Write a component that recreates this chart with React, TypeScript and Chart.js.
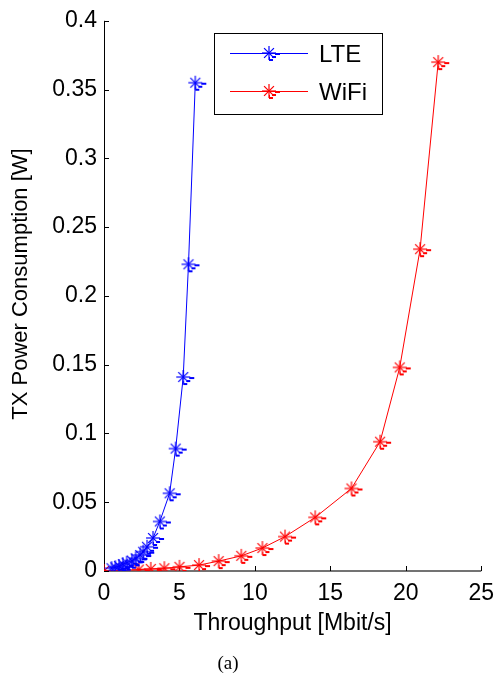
import React, { useEffect, useRef } from "react";
import { Chart, registerables } from "chart.js";

Chart.register(...registerables);

const seriesNames = ["LTE", "WiFi"];
const seriesColors = ["#0000ff", "#ff0000"];

const lteThroughput = [0.5, 0.75, 1.0, 1.25, 1.5, 1.85, 2.1, 2.4, 2.6, 2.85, 3.25, 3.7, 4.35, 4.75, 5.25, 5.6, 6.05];
const ltePower = [0.002, 0.0027, 0.0036, 0.0049, 0.006, 0.0075, 0.0092, 0.0116, 0.014, 0.0176, 0.024, 0.036, 0.0565, 0.089, 0.141, 0.223, 0.355];

const wifiThroughput = [0, 2.3, 3.1, 4.0, 5.0, 6.3, 7.6, 9.1, 10.5, 12.0, 14.0, 16.4, 18.3, 19.6, 20.95, 22.15];
const wifiPower = [0, 0.001, 0.0015, 0.002, 0.003, 0.0043, 0.0072, 0.011, 0.0167, 0.025, 0.039, 0.06, 0.094, 0.148, 0.234, 0.37];

const xTicks = [0, 5, 10, 15, 20, 25];
const yTicks = [0, 0.05, 0.1, 0.15, 0.2, 0.25, 0.3, 0.35, 0.4];

const xTitle = "Throughput [Mbit/s]";
const yTitle = "TX Power Consumption [W]";
const caption = "(a)";

const FONT = "'Liberation Sans', Arial, sans-serif";

function makeMarker(color: string): HTMLCanvasElement {
  const c = document.createElement("canvas");
  c.width = 34;
  c.height = 34;
  const ctx = c.getContext("2d")!;
  const cx = 17;
  const cy = 17;
  const r = 7;
  ctx.strokeStyle = color;
  ctx.lineWidth = 1.2;
  for (let i = 0; i < 4; i++) {
    const a = (i * Math.PI) / 4;
    ctx.beginPath();
    ctx.moveTo(cx - r * Math.cos(a), cy - r * Math.sin(a));
    ctx.lineTo(cx + r * Math.cos(a), cy + r * Math.sin(a));
    ctx.stroke();
  }
  ctx.fillStyle = color;
  ctx.fillRect(cx + 6, cy, 5, 2);
  ctx.fillRect(cx + 3, cy + 3, 4, 2);
  ctx.fillRect(cx, cy + 6, 4, 2);
  ctx.fillRect(cx, cy + 4, 1, 3);
  return c;
}

function toPoints(xs: number[], ys: number[]) {
  return xs.map((x, i) => ({ x, y: ys[i] }));
}

export default function App() {
  const ref = useRef<HTMLCanvasElement | null>(null);

  useEffect(() => {
    document.body.style.margin = "0";
    const canvas = ref.current!;
    const markers = seriesColors.map(makeMarker);

    const axesPlugin = {
      id: "matlabAxes",
      beforeDatasetsDraw(chart: any) {
        const { ctx, chartArea, scales } = chart;
        const { left, right, top, bottom } = chartArea;
        ctx.save();
        ctx.strokeStyle = "#000";
        ctx.lineWidth = 1;
        ctx.beginPath();
        ctx.moveTo(left + 0.5, top);
        ctx.lineTo(left + 0.5, bottom);
        ctx.stroke();
        ctx.strokeStyle = "#444";
        ctx.lineWidth = 1.5;
        ctx.beginPath();
        ctx.moveTo(left, bottom);
        ctx.lineTo(right, bottom);
        ctx.stroke();
        ctx.strokeStyle = "#000";
        ctx.lineWidth = 1;
        for (const v of yTicks) {
          const y = Math.round(scales.y.getPixelForValue(v)) + 0.5;
          ctx.beginPath();
          ctx.moveTo(left, y);
          ctx.lineTo(left + 5, y);
          ctx.stroke();
        }
        for (const v of xTicks) {
          const x = Math.round(scales.x.getPixelForValue(v)) + 0.5;
          ctx.beginPath();
          ctx.moveTo(x, bottom);
          ctx.lineTo(x, bottom - 5);
          ctx.stroke();
        }
        // y axis title
        ctx.save();
        ctx.translate(21, 284);
        ctx.rotate(-Math.PI / 2);
        ctx.fillStyle = "#000";
        ctx.font = `22px ${FONT}`;
        ctx.textAlign = "center";
        ctx.textBaseline = "middle";
        ctx.fillText(yTitle, 0, 0);
        ctx.restore();
        ctx.restore();
      },
    };

    const legendPlugin = {
      id: "boxLegend",
      afterDraw(chart: any) {
        const { ctx } = chart;
        ctx.save();
        const bx = 214, by = 33, bw = 168, bh = 81;
        ctx.fillStyle = "#fff";
        ctx.fillRect(bx, by, bw, bh);
        ctx.strokeStyle = "#000";
        ctx.lineWidth = 1;
        ctx.strokeRect(bx + 0.5, by + 0.5, bw, bh);
        chart.data.datasets.forEach((ds: any, i: number) => {
          const y = i === 0 ? 53 : 91;
          ctx.strokeStyle = ds.borderColor;
          ctx.lineWidth = 1;
          ctx.beginPath();
          ctx.moveTo(230, y + 0.5);
          ctx.lineTo(308, y + 0.5);
          ctx.stroke();
          const m = markers[i];
          ctx.drawImage(m, 269 - m.width / 2, y - m.height / 2);
          ctx.fillStyle = "#000";
          ctx.font = `24px ${FONT}`;
          ctx.textBaseline = "middle";
          ctx.textAlign = "left";
          ctx.fillText(ds.label, 319, y + 2);
        });
        ctx.fillStyle = "#000";
        ctx.font = "19px 'Liberation Serif', 'Times New Roman', serif";
        ctx.textAlign = "center";
        ctx.textBaseline = "middle";
        ctx.fillText(caption, 228, 664);
        ctx.restore();
      },
    };

    const chart = new Chart(canvas, {
      type: "line",
      data: {
        datasets: [
          {
            label: seriesNames[0],
            data: toPoints(lteThroughput, ltePower),
            borderColor: seriesColors[0],
            backgroundColor: seriesColors[0],
            borderWidth: 1,
            pointStyle: markers[0] as any,
            pointRadius: 7,
            tension: 0,
            fill: false,
          },
          {
            label: seriesNames[1],
            data: toPoints(wifiThroughput, wifiPower),
            borderColor: seriesColors[1],
            backgroundColor: seriesColors[1],
            borderWidth: 1,
            pointStyle: markers[1] as any,
            pointRadius: 7,
            tension: 0,
            fill: false,
          },
        ],
      },
      options: {
        responsive: false,
        animation: false,
        devicePixelRatio: 1,
        layout: { padding: { left: 0, right: 14, top: 18, bottom: 0 } },
        plugins: { legend: { display: false }, tooltip: { enabled: false } },
        scales: {
          x: {
            type: "linear",
            min: 0,
            max: 25,
            afterFit: (s: any) => {
              s.height = 108;
            },
            afterBuildTicks: (s: any) => {
              s.ticks = xTicks.map((v) => ({ value: v }));
            },
            ticks: {
              font: { family: FONT, size: 23 },
              color: "#000",
              padding: 9,
              maxRotation: 0,
              callback: (v: any) => String(v),
            },
            grid: { display: false, drawTicks: false },
            border: { display: false },
            title: {
              display: true,
              text: xTitle,
              font: { family: FONT, size: 23 },
              color: "#000",
              padding: { top: 0, bottom: 42 },
            },
          },
          y: {
            type: "linear",
            min: 0,
            max: 0.4,
            afterFit: (s: any) => {
              s.width = 104;
            },
            afterBuildTicks: (s: any) => {
              s.ticks = yTicks.map((v) => ({ value: v }));
            },
            ticks: {
              font: { family: FONT, size: 23 },
              color: "#000",
              padding: 7,
              callback: (v: any) => String(Number(Number(v).toFixed(2))),
            },
            grid: { display: false, drawTicks: false },
            border: { display: false },
            title: { display: false },
          },
        },
      },
      plugins: [axesPlugin, legendPlugin],
    });
    return () => chart.destroy();
  }, []);

  return (
    <div style={{ position: "absolute", left: 0, top: 0, width: 503, height: 679, background: "#fff" }}>
      <canvas ref={ref} width={503} height={679} style={{ width: 503, height: 679, display: "block" }} />
    </div>
  );
}
